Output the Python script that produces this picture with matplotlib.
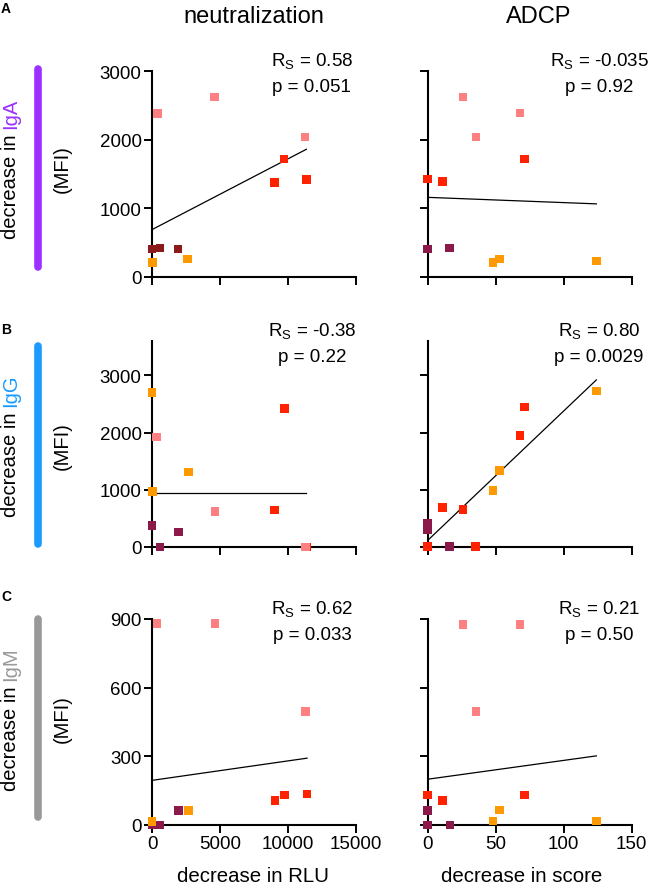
import matplotlib
matplotlib.use('Agg')
import matplotlib.pyplot as plt
from matplotlib.lines import Line2D
import numpy as np

plt.rcParams['font.family'] = ['Liberation Sans', 'DejaVu Sans']

PINK, RED, ORANGE, MAROON, DARKRED = '#FF8080', '#FF2200', '#FF9900', '#8B1A4B', '#8B1A1A'

# row A: IgA
a_neut_x = [400, 4600, 11250, 9700, 9000, 11350, 0, 600, 1900, 50, 2600]
a_neut_y = [2380, 2620, 2040, 1720, 1380, 1420, 410, 420, 410, 210, 260]
a_neut_c = [PINK, PINK, PINK, RED, RED, RED, DARKRED, DARKRED, DARKRED, ORANGE, ORANGE]
a_adcp_x = [26, 68, 35.5, 71, 0, 11, 0, 16, 48, 53, 124]
a_adcp_y = [2620, 2390, 2040, 1720, 1430, 1390, 410, 425, 210, 260, 230]
a_adcp_c = [PINK, PINK, PINK, RED, RED, RED, MAROON, MAROON, ORANGE, ORANGE, ORANGE]

# row B: IgG
b_neut_x = [0, 50, 2670, 350, 4630, 9730, 9000, 11350, 11300, 0, 1950, 590]
b_neut_y = [2700, 970, 1310, 1920, 620, 2420, 650, 0, 0, 380, 260, 0]
b_neut_c = [ORANGE, ORANGE, ORANGE, PINK, PINK, RED, RED, RED, PINK, MAROON, MAROON, MAROON]
b_adcp_x = [124, 71, 68, 53, 48, 11, 26, 0, 0, 0, 16, 35]
b_adcp_y = [2730, 2450, 1950, 1340, 990, 690, 660, 420, 300, 10, 10, 10]
b_adcp_c = [ORANGE, RED, RED, ORANGE, ORANGE, RED, RED, MAROON, MAROON, RED, MAROON, RED]

# row C: IgM
c_neut_x = [370, 4630, 11270, 9040, 9730, 11400, 1930, 0, 600, 2670, 0]
c_neut_y = [880, 880, 495, 107, 132, 135, 63, 0, 0, 63, 15]
c_neut_c = [PINK, PINK, PINK, RED, RED, RED, MAROON, MAROON, MAROON, ORANGE, ORANGE]
c_adcp_x = [26, 68, 35.5, 0, 11, 71, 0, 0, 16.4, 53, 48, 124]
c_adcp_y = [877, 877, 495, 132, 107, 132, 63, 0, 0, 66, 18, 18]
c_adcp_c = [PINK, PINK, PINK, RED, RED, RED, MAROON, MAROON, MAROON, ORANGE, ORANGE, ORANGE]

# fitted lines (value at smallest x, value at largest x)
fit_start = [[690, 1160], [935, 115], [195, 200]]
fit_end = [[1860, 1065], [935, 2920], [292, 302]]

rs_text = [['0.58', '-0.035'], ['-0.38', '0.80'], ['0.62', '0.21']]
p_text = [['0.051', '0.92'], ['0.22', '0.0029'], ['0.033', '0.50']]

isotypes = ['IgA', 'IgG', 'IgM']
iso_colors = ['#9B30FF', '#1A9BFF', '#999999']
panel_letters = ['A', 'B', 'C']
col_titles = ['neutralization', 'ADCP']
col_xlabels = ['decrease in RLU', 'decrease in score']
y_lims = [3000, 3600, 900]
y_ticks = [[0, 1000, 2000, 3000], [0, 1000, 2000, 3000], [0, 300, 600, 900]]
x_lims = [15000, 150]
x_ticks = [[0, 5000, 10000, 15000], [0, 50, 100, 150]]

panels = [[(a_neut_x, a_neut_y, a_neut_c), (a_adcp_x, a_adcp_y, a_adcp_c)],
          [(b_neut_x, b_neut_y, b_neut_c), (b_adcp_x, b_adcp_y, b_adcp_c)],
          [(c_neut_x, c_neut_y, c_neut_c), (c_adcp_x, c_adcp_y, c_adcp_c)]]

W, H = 650, 887
fig = plt.figure(figsize=(W / 100, H / 100), dpi=100)

col_left = [152, 427.7]
ax_w = 204
row_top = [72, 342, 620]
ax_h = 206

for r in range(3):
    for c in range(2):
        ax = fig.add_axes([col_left[c] / W, 1 - (row_top[r] + ax_h) / H, ax_w / W, ax_h / H])
        x, y, cols = panels[r][c]
        x = np.array(x, dtype=float)
        ax.plot([x.min(), x.max()], [fit_start[r][c], fit_end[r][c]], color='black', lw=0.9, zorder=2)
        ax.scatter(x, y, c=cols, marker='s', s=38, linewidths=0, clip_on=False, zorder=3)
        ax.set_xlim(0, x_lims[c])
        ax.set_ylim(0, y_lims[r])
        ax.set_xticks(x_ticks[c])
        ax.set_yticks(y_ticks[r])
        if c == 1:
            ax.set_yticklabels([])
        if r < 2:
            ax.set_xticklabels([])
        for s in ['top', 'right']:
            ax.spines[s].set_visible(False)
        for s in ['left', 'bottom']:
            ax.spines[s].set_linewidth(1.5)
        ax.tick_params(direction='out', length=6, width=1.4, labelsize=13.5, pad=1.5)
        xt = 0.784 if c == 0 else 0.84
        ax.text(xt, 1.05, r'R$_\mathregular{S}$ = ' + rs_text[r][c], transform=ax.transAxes,
                ha='center', va='center', fontsize=13.5)
        ax.text(xt, 0.925, 'p = ' + p_text[r][c], transform=ax.transAxes,
                ha='center', va='center', fontsize=13.5)
        if r == 2:
            fig.text([253, 522][c] / W, 1 - 877 / H, col_xlabels[c], ha='center', va='center', fontsize=14.7)

fig.text(254 / W, 1 - 17 / H, col_titles[0], ha='center', va='center', fontsize=17)
fig.text(539 / W, 1 - 17 / H, col_titles[1], ha='center', va='center', fontsize=17)

renderer = fig.canvas.get_renderer()
bar_top = [70, 347, 620]
letter_y = [9, 330, 597]
for r in range(3):
    y0, y1 = bar_top[r], bar_top[r] + 198
    fig.add_artist(Line2D([37.7 / W, 37.7 / W], [1 - y0 / H, 1 - y1 / H], transform=fig.transFigure,
                          lw=5.5, color=iso_colors[r], solid_capstyle='round'))
    fig.text(6 / W, 1 - letter_y[r] / H, panel_letters[r], fontsize=10, fontweight='bold', ha='center', va='center')
    fig.text(62 / W, 1 - (y0 + y1) / 2 / H, '(MFI)', rotation=90, ha='center', va='center', fontsize=14.5)
    # two-colour rotated label
    full = fig.text(0, 0, 'decrease in ' + isotypes[r], fontsize=14.5)
    L = full.get_window_extent(renderer).width
    full.remove()
    ystart = H - (y0 + y1) / 2 - L / 2  # in display px from bottom
    fig.text(11 / W, ystart / H, 'decrease in', rotation=90, rotation_mode='anchor',
             ha='left', va='center', fontsize=14.5)
    fig.text(11 / W, (ystart + L) / H, isotypes[r], rotation=90, rotation_mode='anchor',
             ha='right', va='center', fontsize=14.5, color=iso_colors[r])

fig.savefig('out.png', dpi=100)
